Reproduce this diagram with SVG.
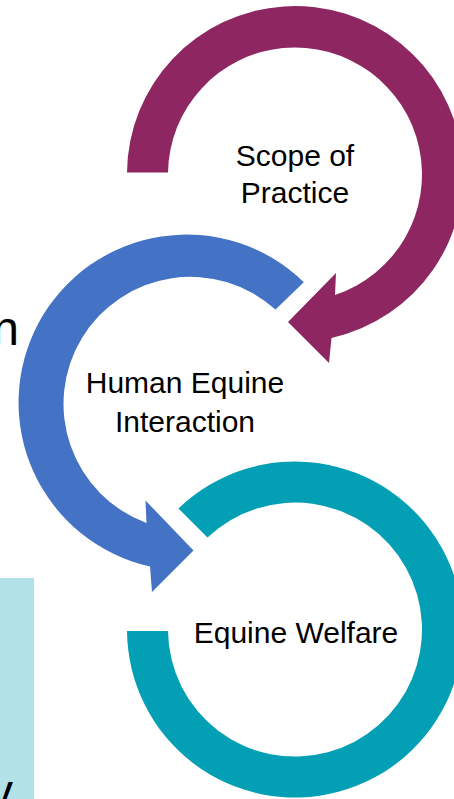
<svg xmlns="http://www.w3.org/2000/svg" width="454" height="799" viewBox="0 0 454 799">
<style>
.lbl{font-family:"Liberation Sans",Arial,sans-serif;font-size:30px;fill:#000;text-anchor:middle}
.big{font-family:"Liberation Sans",Arial,sans-serif;font-size:48px;fill:#000;text-anchor:end}
</style>
<rect x="0" y="0" width="454" height="799" fill="#fff"/>
<rect x="0" y="578" width="34" height="221" fill="#B3E1E8"/>
<text class="big" x="19" y="345">n</text>
<text class="big" x="13" y="808">y</text>
<g id="connectors">
<path id="arrow-teal" fill="#039FB5" d="M178.5,508.5 A168,168 0 1 1 127,631 L168,631 A127,127 0 1 0 207.5,537.5 Z"/>
<path id="arrow-blue" fill="#4472C4" d="M303.8,282.2 A168,168 0 1 0 150,566.5 L152,592 L193.5,550.5 L145.5,500.5 L146.5,523 A127,127 0 1 1 275.5,309.5 Z"/>
<path id="arrow-purple" fill="#8E2761" d="M127,172.5 A168,168 0 1 1 331.5,338 L329,363 L288,322 L336,273 L335,295 A127,127 0 1 0 168,172.5 Z"/>
</g>
<g id="node-scope">
<text class="lbl" x="295" y="166">Scope of</text>
<text class="lbl" x="295" y="203">Practice</text>
</g>
<g id="node-human">
<text class="lbl" x="185" y="393">Human Equine</text>
<text class="lbl" x="185" y="432">Interaction</text>
</g>
<g id="node-welfare">
<text class="lbl" x="296" y="643">Equine Welfare</text>
</g>
</svg>
